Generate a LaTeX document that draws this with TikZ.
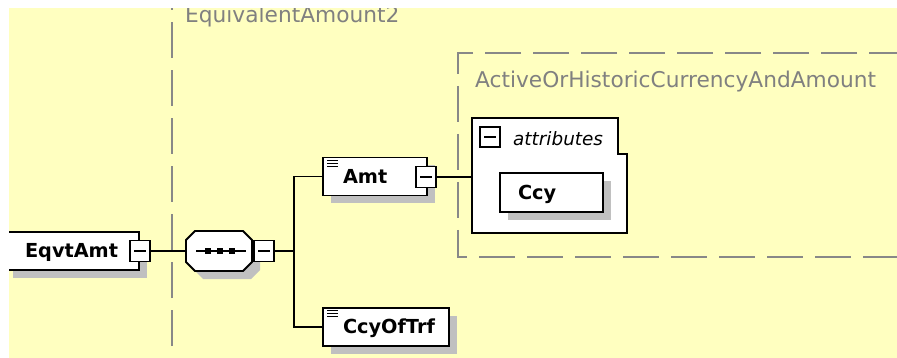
\documentclass[tikz,border=0pt]{standalone}
\usepackage{fontspec}
\setmainfont{DejaVu Sans}
\usetikzlibrary{shadows}
\definecolor{bgy}{RGB}{255,255,192}
\definecolor{shadowc}{RGB}{192,192,192}
\definecolor{titleg}{RGB}{128,128,128}
\definecolor{dashg}{RGB}{136,136,136}
\begin{document}
\begin{tikzpicture}[x=1pt,y=-1pt,
 elem/.style={draw=black, fill=white, line width=1.8pt, rectangle, minimum height=38pt,
   inner ysep=0pt, align=left, text height=13.5pt, text depth=0pt,
   font=\fontsize{19.3}{22}\selectfont\bfseries,
   drop shadow={shadow xshift=8pt, shadow yshift=-8pt, fill=shadowc, opacity=1}},
 withicon/.style={path picture={
   \foreach \d in {2.8,5.8,8.8}{\draw[line width=1.1pt] ([xshift=4pt,yshift=-\d pt]path picture bounding box.north west) -- ++(11pt,0pt);}}},
 minusbox/.style={draw=black, fill=white, line width=1.8pt, minimum width=20pt,
   minimum height=21pt, inner sep=0pt,
   path picture={\draw[line width=1.6pt] (path picture bounding box.center) ++(-6pt,0pt) -- ++(12pt,0pt);}},
 conn/.style={draw=black, line width=1.8pt},
 grpframe/.style={draw=dashg, line width=1.6pt, dash pattern=on 36pt off 12pt},
 grptitle/.style={text=titleg, font=\fontsize{21.7}{25}\selectfont, anchor=base west, inner sep=0pt}
]
\useasboundingbox (0,0) rectangle (897,358);
\clip (0,0) rectangle (897,358);
\fill[white] (0,0) rectangle (897,358);
\fill[bgy] (9,8) rectangle (897,358);

% group frames
\draw[grpframe] (172,346) -- (172,-30);
\draw[grpframe] (905,53) -- (458,53) -- (458,257) -- (905,257);
\node[grptitle] (t1) at (185,23) {EquivalentAmount2};
\node[grptitle] (t2) at (475,88) {ActiveOrHistoricCurrencyAndAmount};

% sequence compositor (octagon)
\fill[shadowc, shift={(8,8)}] (195,231) -- (243,231) -- (252,240) -- (252,262) -- (243,271) -- (195,271) -- (186,262) -- (186,240) -- cycle;
\draw[line width=1.8pt, fill=white] (195,231) -- (243,231) -- (252,240) -- (252,262) -- (243,271) -- (195,271) -- (186,262) -- (186,240) -- cycle;
\node[minimum width=66pt, minimum height=40pt, inner sep=0pt] (seq) at (219,251) {};
\draw[line width=1.6pt] ([xshift=-23pt]seq.center) -- ([xshift=27pt]seq.center);
\foreach \dx in {-11,1,13}{\fill ([xshift=\dx pt]seq.center) ++(-3pt,-2.8pt) rectangle ++(6pt,5.6pt);}

% attributes box
\draw[line width=1.8pt, fill=white] (472,118) -- (618,118) -- (618,154) -- (627,154) -- (627,233) -- (472,233) -- cycle;
\node[inner sep=0pt, minimum width=155pt, minimum height=115pt] (attr) at (549.5,175.5) {};
\node[minusbox, minimum height=20pt] (attrm) at (490,137) {};
\node[anchor=base west, inner sep=0pt, font=\fontsize{18.4}{22}\selectfont\itshape] (attrl) at (513,146) {attributes};
\node[elem, text width=67pt, inner xsep=18pt, minimum height=39pt] (ccy) at (551.5,192.5) {Ccy};

% elements
\node[elem, text width=94pt, inner xsep=20pt] (eqvt) at (72,251) {EqvtAmt};
\node[minusbox] (eqvtm) at (140,251) {};
\node[minusbox] (seqm) at (264,251) {};
\coordinate (junc) at (294,251);
\node[elem, withicon, text width=64pt, inner xsep=20pt] (amt) at (375,176.5) {Amt};
\node[minusbox] (amtm) at (426,177) {};
\node[elem, withicon, text width=86pt, inner xsep=20pt] (ccyoftrf) at (386,327) {CcyOfTrf};

% connectors
\draw[conn] (eqvtm.east) -- (seq.west);
\draw[conn] (seqm.east) -- (junc);
\draw[conn] (amt.west) -| (junc) |- (ccyoftrf.west);
\draw[conn] (amtm.east) -- (amtm.east -| attr.west);

% white margins
\fill[white] (0,0) rectangle (897,8);
\fill[white] (0,0) rectangle (9,358);
\end{tikzpicture}
\end{document}
